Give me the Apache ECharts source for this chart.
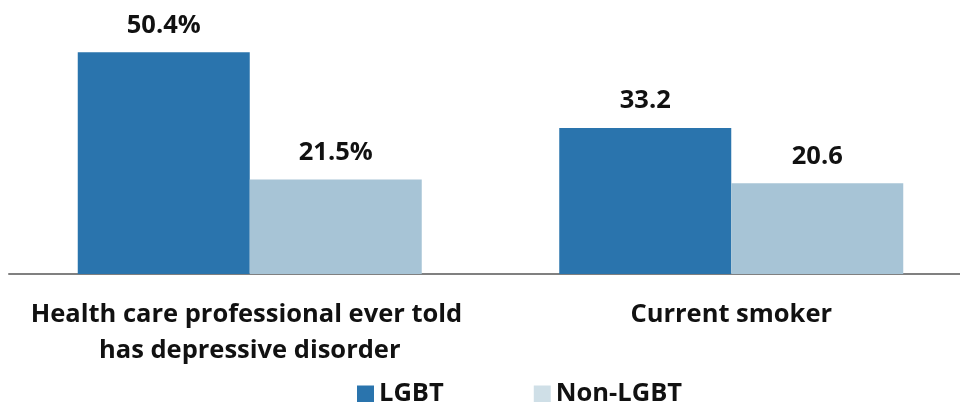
<!DOCTYPE html>
<html><head><meta charset="utf-8">
<script src="https://cdn.jsdelivr.net/npm/echarts@6/dist/echarts.min.js"></script>
<style>html,body{margin:0;padding:0;background:#fff}#c{width:960px;height:402px}</style>
</head><body><div id="c"></div>
<script>
const categories = ['Health care professional ever told has depressive disorder', 'Current smoker'];
const lgbtValues = [50.4, 33.2];
const nonLgbtValues = [21.5, 20.6];
const lgbtLabels = ['50.4%', '33.2'];
const nonLgbtLabels = ['21.5%', '20.6'];
const seriesNames = ['LGBT', 'Non-LGBT'];

const FONT = '"Open Sans", sans-serif';
const FS = 25.5;
const chart = echarts.init(document.getElementById('c'));
chart.setOption({
  animation: false,
  grid: { left: 9, width: 963, top: 10, bottom: 128, containLabel: false, outerBoundsMode: 'none' },
  legend: {
    bottom: -10,
    left: 352,
    itemWidth: 17, itemHeight: 17, itemGap: 90,
    icon: 'rect',
    textStyle: { fontFamily: FONT, fontSize: FS, fontWeight: 'bold', color: '#111' },
    data: [
      { name: seriesNames[0], itemStyle: { color: '#2a74ad' } },
      { name: seriesNames[1], itemStyle: { color: '#cfdfe7' } }
    ]
  },
  xAxis: {
    type: 'category',
    data: categories,
    axisLine: { lineStyle: { color: '#808080', width: 2 } },
    axisTick: { show: false },
    axisLabel: {
      interval: 0, margin: 23,
      fontFamily: FONT, fontSize: FS, fontWeight: 'bold', color: '#111',
      lineHeight: 36, width: 470, overflow: 'break', align: 'center'
    }
  },
  yAxis: { type: 'value', min: 0, max: 60, show: false, splitLine: { show: false } },
  series: [
    {
      name: seriesNames[0], type: 'bar', data: lgbtValues, barWidth: 172, barGap: '0%',
      itemStyle: { color: '#2a74ad' },
      label: { show: true, position: 'top', distance: 14, fontFamily: FONT, fontSize: FS, fontWeight: 'bold', color: '#111',
        formatter: p => lgbtLabels[p.dataIndex] }
    },
    {
      name: seriesNames[1], type: 'bar', data: nonLgbtValues, barWidth: 172,
      itemStyle: { color: '#a7c4d6' },
      label: { show: true, position: 'top', distance: 14, fontFamily: FONT, fontSize: FS, fontWeight: 'bold', color: '#111',
        formatter: p => nonLgbtLabels[p.dataIndex] }
    }
  ]
});
</script></body></html>
